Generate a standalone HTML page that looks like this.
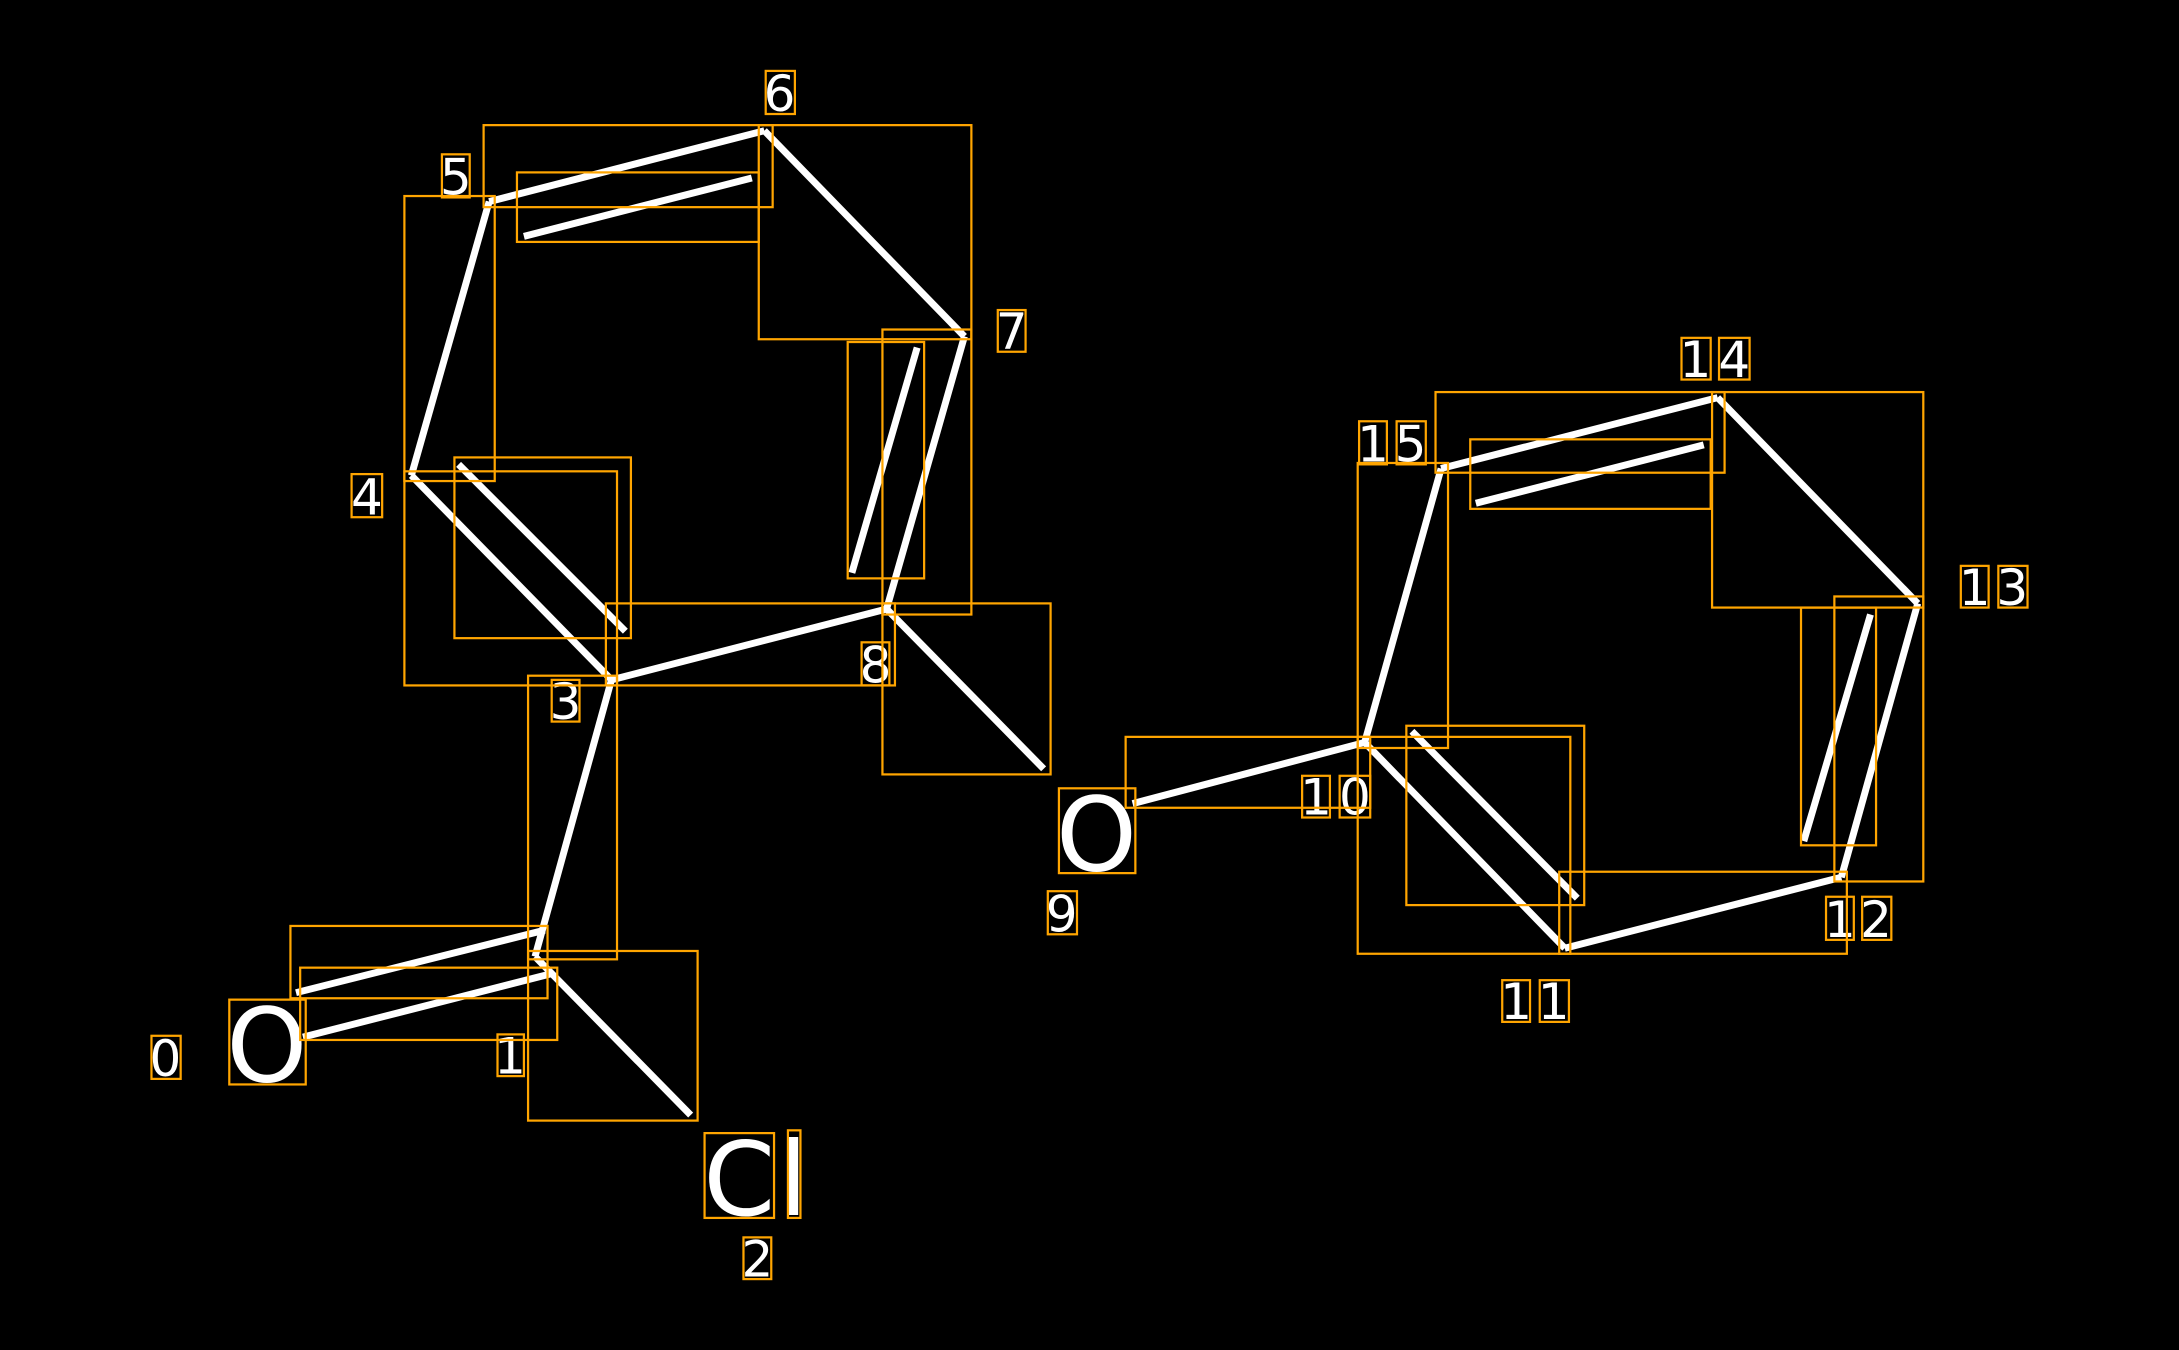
<!DOCTYPE html>
<html><head><meta charset="utf-8"><style>html,body{margin:0;padding:0;background:#000;overflow:hidden}svg{display:block}</style></head>
<body>
<svg width="2179" height="1350" viewBox="0 0 1568 971" preserveAspectRatio="none" xmlns="http://www.w3.org/2000/svg">
<rect width="1568" height="971" fill="#000"/>
<g stroke="#fff" stroke-width="5" fill="none">
<line x1="213" y1="714" x2="392" y2="669"/>
<line x1="218" y1="746" x2="398" y2="700"/>
<line x1="385" y1="688" x2="497" y2="802"/>
<line x1="385" y1="688" x2="440" y2="489"/>
<line x1="440" y1="489" x2="296" y2="342"/>
<line x1="330" y1="334" x2="450" y2="454"/>
<line x1="440" y1="489" x2="638" y2="438"/>
<line x1="638" y1="438" x2="694" y2="242"/>
<line x1="613" y1="412" x2="660" y2="250"/>
<line x1="638" y1="438" x2="751" y2="553"/>
<line x1="694" y1="242" x2="550" y2="94"/>
<line x1="550" y1="94" x2="352" y2="145"/>
<line x1="377" y1="170" x2="541" y2="128"/>
<line x1="352" y1="145" x2="296" y2="342"/>
<line x1="815" y1="578" x2="982" y2="534"/>
<line x1="982" y1="534" x2="1126" y2="682"/>
<line x1="1016" y1="526" x2="1135" y2="646"/>
<line x1="1126" y1="682" x2="1325" y2="631"/>
<line x1="1325" y1="631" x2="1380" y2="434"/>
<line x1="1298" y1="605" x2="1346" y2="442"/>
<line x1="1380" y1="434" x2="1236" y2="286"/>
<line x1="1236" y1="286" x2="1037" y2="337"/>
<line x1="1062" y1="362" x2="1226" y2="320"/>
<line x1="1037" y1="337" x2="982" y2="534"/>
</g>
<g font-family="DejaVu Sans, Liberation Sans, sans-serif" fill="#fff" text-anchor="middle">
<text x="192" y="778" font-size="74">O</text>
<text x="789" y="626" font-size="74">O</text>
<text x="532" y="874" font-size="74">C</text>
<text x="571" y="874" font-size="74">l</text>
<g font-size="36">
<text x="119" y="774">0</text>
<text x="367" y="772">1</text>
<text x="545" y="918">2</text>
<text x="407" y="517">3</text>
<text x="264" y="370">4</text>
<text x="328" y="140">5</text>
<text x="561" y="80">6</text>
<text x="728" y="251">7</text>
<text x="630" y="491">8</text>
<text x="764" y="670">9</text>
<text x="947" y="586">1</text><text x="975" y="586">0</text>
<text x="1091" y="733">1</text><text x="1118" y="733">1</text>
<text x="1324" y="674">1</text><text x="1350" y="674">2</text>
<text x="1421" y="435">1</text><text x="1448" y="435">3</text>
<text x="1220" y="271">1</text><text x="1248" y="271">4</text>
<text x="988" y="332">1</text><text x="1015" y="332">5</text>
</g>
</g>
<g stroke="#FFA500" stroke-width="1.6" fill="none">
<rect x="165" y="719" width="55" height="61"/>
<rect x="109" y="745" width="21" height="31"/>
<rect x="209" y="666" width="185" height="52"/>
<rect x="216" y="696" width="185" height="52"/>
<rect x="358" y="744" width="19" height="30"/>
<rect x="380" y="684" width="122" height="122"/>
<rect x="507" y="815" width="50" height="61"/>
<rect x="567" y="813" width="9" height="63"/>
<rect x="535" y="890" width="20" height="30"/>
<rect x="380" y="486" width="64" height="204"/>
<rect x="397" y="489" width="20" height="30"/>
<rect x="291" y="339" width="153" height="154"/>
<rect x="327" y="329" width="127" height="130"/>
<rect x="436" y="434" width="208" height="59"/>
<rect x="620" y="462" width="20" height="31"/>
<rect x="635" y="434" width="121" height="123"/>
<rect x="635" y="237" width="64" height="205"/>
<rect x="610" y="246" width="55" height="170"/>
<rect x="718" y="223" width="20" height="30"/>
<rect x="546" y="90" width="153" height="154"/>
<rect x="551" y="51" width="21" height="31"/>
<rect x="348" y="90" width="208" height="59"/>
<rect x="372" y="124" width="174" height="50"/>
<rect x="318" y="111" width="20" height="31"/>
<rect x="291" y="141" width="65" height="205"/>
<rect x="253" y="341" width="22" height="31"/>
<rect x="762" y="567" width="55" height="61"/>
<rect x="754" y="641" width="21" height="31"/>
<rect x="810" y="530" width="176" height="51"/>
<rect x="937" y="558" width="20" height="30"/>
<rect x="964" y="558" width="22" height="30"/>
<rect x="977" y="530" width="153" height="156"/>
<rect x="1012" y="522" width="128" height="129"/>
<rect x="1081" y="705" width="20" height="30"/>
<rect x="1108" y="705" width="21" height="30"/>
<rect x="1122" y="627" width="207" height="59"/>
<rect x="1314" y="645" width="20" height="31"/>
<rect x="1340" y="645" width="21" height="31"/>
<rect x="1320" y="429" width="64" height="205"/>
<rect x="1296" y="437" width="54" height="171"/>
<rect x="1411" y="407" width="20" height="30"/>
<rect x="1438" y="407" width="21" height="30"/>
<rect x="1232" y="282" width="152" height="155"/>
<rect x="1210" y="243" width="21" height="30"/>
<rect x="1237" y="243" width="22" height="30"/>
<rect x="1033" y="282" width="208" height="58"/>
<rect x="1058" y="316" width="173" height="50"/>
<rect x="978" y="303" width="20" height="31"/>
<rect x="1005" y="303" width="21" height="31"/>
<rect x="977" y="333" width="65" height="205"/>
</g>
</svg>
</body></html>
